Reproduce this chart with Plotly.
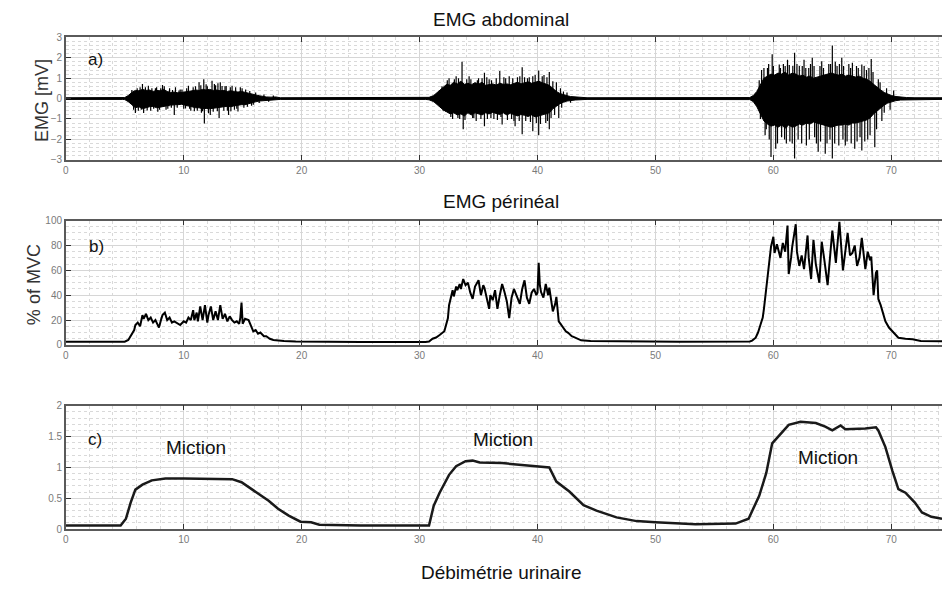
import plotly.graph_objects as go

# ---------------- a) abdominal EMG (mV) ----------------
# body of the raw signal: time (s), upper and lower envelope
emg_t = [0.0, 4.8, 5.0, 5.3, 5.6, 5.9, 6.2, 6.5, 6.8, 7.1, 7.4, 7.7, 8.0, 8.3, 8.6, 8.9, 9.2,
         9.5, 9.8, 10.1, 10.4, 10.7, 11.0, 11.3, 11.6, 11.9, 12.2, 12.5, 12.8, 13.1, 13.4,
         13.7, 14.0, 14.3, 14.6, 14.9, 15.2, 15.5, 15.8, 16.1, 16.4, 16.7, 17.0, 17.4, 17.8,
         18.2, 30.5,
         30.8, 31.2, 31.6, 32.0, 32.3, 32.6, 32.9, 33.2, 33.5, 33.8, 34.1, 34.4, 34.7, 35.0,
         35.3, 35.6, 35.9, 36.2, 36.5, 36.8, 37.1, 37.4, 37.7, 38.0, 38.3, 38.6, 38.9, 39.2,
         39.5, 39.8, 40.1, 40.4, 40.7, 41.0, 41.3, 41.6, 41.9, 42.2, 42.5, 42.8, 43.2, 43.6,
         44.2,
         58.0, 58.3, 58.6, 58.9, 59.2, 59.5, 59.8, 60.1, 60.4, 60.7, 61.0, 61.3, 61.6, 61.9,
         62.2, 62.5, 62.8, 63.1, 63.4, 63.7, 64.0, 64.3, 64.6, 64.9, 65.2, 65.5, 65.8, 66.1,
         66.4, 66.7, 67.0, 67.3, 67.6, 67.9, 68.2, 68.5, 68.8, 69.1, 69.4, 69.7, 70.0, 70.4,
         70.8, 71.3, 72.0, 74.3]
emg_up = [0.04, 0.04, 0.05, 0.15, 0.30, 0.40, 0.38, 0.45, 0.40, 0.42, 0.35, 0.40, 0.38, 0.45,
          0.35, 0.30, 0.32, 0.28, 0.30, 0.30, 0.35, 0.38, 0.42, 0.40, 0.45, 0.42, 0.45, 0.40,
          0.42, 0.38, 0.40, 0.35, 0.38, 0.35, 0.32, 0.35, 0.30, 0.25, 0.22, 0.18, 0.14, 0.10,
          0.08, 0.07, 0.08, 0.04, 0.04,
          0.06, 0.15, 0.35, 0.55, 0.70, 0.65, 0.80, 0.72, 0.85, 0.70, 0.75, 0.68, 0.78, 0.70,
          0.80, 0.65, 0.70, 0.72, 0.66, 0.75, 0.70, 0.72, 0.68, 0.75, 0.80, 0.72, 0.78, 0.82,
          0.75, 0.80, 0.85, 0.78, 0.72, 0.65, 0.50, 0.35, 0.25, 0.18, 0.14, 0.10, 0.08, 0.06,
          0.04,
          0.05, 0.15, 0.35, 0.70, 1.00, 1.10, 1.20, 1.15, 1.25, 1.20, 1.30, 1.15, 1.25, 1.20,
          1.10, 1.15, 1.05, 1.10, 1.00, 1.05, 1.10, 1.15, 1.20, 1.25, 1.20, 1.15, 1.20, 1.10,
          1.15, 1.10, 1.05, 1.10, 1.00, 0.95, 0.85, 0.70, 0.55, 0.42, 0.30, 0.22, 0.15, 0.10,
          0.07, 0.05, 0.04, 0.04]
emg_lo = [-0.04, -0.04, -0.05, -0.15, -0.30, -0.45, -0.40, -0.50, -0.45, -0.40, -0.38, -0.45,
          -0.42, -0.40, -0.35, -0.32, -0.30, -0.30, -0.28, -0.32, -0.35, -0.40, -0.45, -0.45,
          -0.50, -0.48, -0.50, -0.45, -0.45, -0.42, -0.40, -0.38, -0.40, -0.35, -0.32, -0.30,
          -0.30, -0.25, -0.20, -0.16, -0.12, -0.10, -0.07, -0.06, -0.05, -0.04, -0.04,
          -0.06, -0.15, -0.35, -0.55, -0.65, -0.75, -0.70, -0.80, -0.75, -0.85, -0.70, -0.80,
          -0.70, -0.75, -0.80, -0.70, -0.75, -0.68, -0.72, -0.78, -0.70, -0.80, -0.72, -0.80,
          -0.85, -0.78, -0.82, -0.88, -0.80, -0.90, -0.85, -0.80, -0.75, -0.70, -0.50, -0.38,
          -0.25, -0.18, -0.12, -0.10, -0.07, -0.05, -0.04,
          -0.05, -0.15, -0.40, -0.75, -1.10, -1.25, -1.35, -1.30, -1.40, -1.30, -1.45, -1.30,
          -1.40, -1.35, -1.25, -1.30, -1.20, -1.25, -1.15, -1.20, -1.25, -1.30, -1.35, -1.40,
          -1.35, -1.30, -1.30, -1.25, -1.30, -1.20, -1.20, -1.15, -1.10, -1.05, -0.95, -0.75,
          -0.60, -0.45, -0.32, -0.22, -0.15, -0.10, -0.07, -0.05, -0.04, -0.04]

# individual EMG spikes, one list per contraction: time (s) and peak value (mV)
spikes1_t = [5.6, 5.75, 5.9, 6.05, 6.15, 6.3, 6.4, 6.5, 6.6, 6.75, 6.9, 7.0, 7.2, 7.3, 7.45,
             7.6, 7.7, 7.8, 7.95, 8.05, 8.2, 8.35, 8.5, 8.65, 8.8, 8.95, 9.05, 9.2, 9.3, 9.45,
             9.6, 9.7, 9.85, 10.0, 10.15, 10.25, 10.4, 10.5, 10.6, 10.8, 10.9, 11.0, 11.15,
             11.3, 11.45, 11.5, 11.6, 11.7, 11.75, 11.9, 12.0, 12.1, 12.25, 12.4, 12.5, 12.6,
             12.7, 12.85, 12.9, 13.0, 13.1, 13.25, 13.4, 13.5, 13.6, 13.7, 13.8, 13.95, 14.0,
             14.1, 14.3, 14.4, 14.5, 14.6, 14.8, 14.95, 15.1, 15.25, 15.4, 15.6, 15.75, 15.9,
             16.1, 16.4, 16.8, 17.2, 17.6]
spikes1_v = [0.42, -0.55, -0.71, 0.50, -0.60, 0.55, -0.55, 0.71, -0.71, 0.55, -0.58, 0.63,
             -0.60, 0.50, -0.50, 0.50, 0.55, -0.65, -0.55, 0.50, 0.67, 0.60, -0.55, -0.50,
             0.50, -0.45, 0.42, -0.80, 0.55, -0.45, 0.40, 0.45, 0.45, -0.50, -0.48, 0.50,
             0.63, -0.50, -0.60, 0.55, -0.62, 0.60, -0.60, 0.80, 0.65, -0.70, -0.62, 0.95,
             -1.22, 0.70, 0.60, -0.72, -0.80, 0.87, -0.65, 0.72, 0.65, -0.62, 0.75, -0.95,
             0.80, 0.62, -0.60, 0.60, 0.62, -0.60, -0.80, 0.55, -0.62, 0.63, -0.55, 0.55,
             -0.50, -0.63, 0.55, 0.50, -0.45, 0.45, -0.40, 0.37, -0.35, -0.30, 0.30, -0.22,
             0.20, -0.15, 0.15]
spikes2_t = [31.9, 32.0, 32.2, 32.35, 32.5, 32.65, 32.8, 32.95, 33.1, 33.25, 33.3, 33.4, 33.6,
             33.7, 33.85, 34.0, 34.2, 34.35, 34.5, 34.6, 34.8, 34.9, 35.0, 35.2, 35.3, 35.5,
             35.5, 35.7, 35.75, 35.9, 36.05, 36.1, 36.3, 36.5, 36.6, 36.8, 36.9, 37.0, 37.15,
             37.3, 37.45, 37.6, 37.8, 37.9, 38.0, 38.1, 38.3, 38.45, 38.5, 38.7, 38.7, 38.9,
             39.0, 39.15, 39.3, 39.4, 39.6, 39.6, 39.8, 39.9, 40.1, 40.1, 40.25, 40.4, 40.55,
             40.7, 40.8, 40.85, 41.0, 41.0, 41.15, 41.3, 41.45, 41.6, 41.8, 41.95, 42.05,
             42.2, 42.5, 42.8]
spikes2_v = [0.60, -0.60, -0.63, 0.90, 1.00, -0.90, -1.00, 0.95, 1.10, -0.95, 1.00, -1.00,
             1.80, -1.50, -1.05, 0.95, 1.10, 0.95, -0.95, -0.95, -1.10, 0.90, 1.00, -1.00,
             1.00, 1.27, -1.35, 1.05, -1.00, 0.95, -0.95, 0.90, -1.00, 1.00, -1.05, 1.35,
             -0.90, -1.27, 1.05, 1.00, -1.05, 1.10, -1.00, 1.00, -1.10, -1.35, 1.05, -1.10,
             1.10, 1.54, -1.75, 1.05, -1.10, 1.00, 1.05, -1.15, 1.10, -1.60, 1.15, -1.20,
             1.38, -1.80, -1.25, 1.10, 1.15, -1.20, 1.05, -1.10, 1.30, -1.50, -0.95, 0.85,
             -0.80, 0.80, -0.95, 0.50, -0.45, 0.35, 0.30, -0.20]
spikes3_t = [58.8, 58.9, 59.0, 59.2, 59.3, 59.4, 59.5, 59.6, 59.65, 59.8, 59.9, 60.0, 60.2,
             60.35, 60.5, 60.6, 60.7, 60.85, 60.95, 61.0, 61.1, 61.2, 61.35, 61.4, 61.6,
             61.65, 61.8, 61.8, 62.0, 62.1, 62.2, 62.4, 62.45, 62.6, 62.75, 62.8, 63.0, 63.05,
             63.15, 63.3, 63.45, 63.5, 63.65, 63.8, 63.95, 64.0, 64.1, 64.25, 64.4, 64.55,
             64.7, 64.8, 64.85, 65.0, 65.0, 65.2, 65.25, 65.4, 65.55, 65.6, 65.8, 65.9, 65.95,
             66.1, 66.25, 66.4, 66.55, 66.6, 66.7, 66.9, 67.05, 67.1, 67.2, 67.35, 67.5, 67.5,
             67.7, 67.75, 67.9, 68.0, 68.1, 68.2, 68.3, 68.45, 68.6, 68.75, 68.9, 69.05, 69.2,
             69.4, 69.6, 69.9, 70.2]
spikes3_v = [0.90, -1.00, 1.40, 1.50, -1.80, -1.50, 1.50, 1.70, -2.00, -2.86, 2.17, 1.60,
             -2.46, -2.20, 1.67, 1.50, -1.90, 1.70, -2.00, 1.60, -2.20, 1.90, 1.65, -2.10,
             -2.20, 1.60, 2.25, -2.94, 1.70, -2.00, 1.60, -2.20, 1.60, 1.90, 1.50, -2.30,
             1.50, -2.00, 1.70, 2.00, 1.60, -1.90, -2.20, -2.60, 1.60, -2.10, 1.83, 1.50,
             -2.70, -2.20, 1.70, -2.00, 1.70, 2.60, -2.94, -2.20, 1.80, 1.60, -2.30, 1.70,
             2.00, -2.00, 1.60, -2.30, -2.10, 1.70, 1.50, -2.20, 1.75, -2.46, 1.60, -2.10,
             1.50, -1.90, 1.67, -2.54, 1.60, -2.10, 1.40, -2.00, 1.50, -1.80, 1.94, 1.30,
             -2.38, -1.50, 0.95, 0.80, -1.10, -0.70, 0.50, -0.55, 0.40]

# ---------------- b) perineal EMG (% of MVC) ----------------
mvc_t = [0, 2, 4, 5.0, 5.3, 5.5, 5.8, 5.9, 6.1, 6.3, 6.5, 6.6, 6.8, 7.0, 7.2, 7.4, 7.6, 7.8,
         7.9, 8.1, 8.2, 8.4, 8.6, 8.8, 9.0, 9.2, 9.5, 9.7, 10.0, 10.2, 10.4, 10.6, 10.8, 10.9,
         11.1, 11.2, 11.4, 11.6, 11.8, 12.0, 12.1, 12.3, 12.5, 12.7, 12.9, 13.1, 13.3, 13.5,
         13.7, 13.9, 14.1, 14.3, 14.5, 14.7, 14.8, 14.9, 15.0, 15.2, 15.5, 15.7, 15.9, 16.1,
         16.3, 16.5, 16.8, 17.0, 17.3, 17.6, 18.0, 18.5, 19.5, 21, 25, 30.5,
         30.8, 31.1, 31.4, 31.7, 32.1, 32.4, 32.5, 32.7, 32.8, 32.9, 33.1, 33.2, 33.4, 33.5,
         33.7, 33.9, 34.1, 34.3, 34.5, 34.7, 35.0, 35.2, 35.4, 35.5, 35.7, 35.9, 36.0, 36.2,
         36.4, 36.6, 36.8, 37.0, 37.2, 37.4, 37.6, 37.8, 38.0, 38.2, 38.5, 38.7, 38.9, 39.1,
         39.3, 39.5, 39.7, 39.9, 40.0, 40.1, 40.2, 40.3, 40.5, 40.7, 40.9, 41.0, 41.2, 41.3,
         41.5, 41.6, 41.8, 42.0, 42.2, 42.4, 42.6, 42.9, 43.1, 43.4, 43.7, 44.5, 47, 52, 58.0,
         58.2, 58.5, 58.7, 58.9, 59.1, 59.2, 59.3, 59.4, 59.6, 59.8, 60.0, 60.1, 60.3, 60.5,
         60.6, 60.8, 61.0, 61.2, 61.3, 61.5, 61.6, 61.9, 62.0, 62.2, 62.4, 62.6, 62.9, 63.0,
         63.2, 63.4, 63.6, 63.9, 64.1, 64.3, 64.6, 64.8, 65.0, 65.3, 65.6, 65.9, 66.1, 66.3,
         66.5, 66.7, 66.9, 67.1, 67.3, 67.5, 67.8, 68.0, 68.2, 68.3, 68.5, 68.7, 68.8, 68.9,
         69.1, 69.2, 69.5, 69.8, 70.1, 70.4, 70.6, 71.2, 71.8, 72.5, 74.3]
mvc_v = [2.5, 2.4, 2.3, 2.6, 4, 7, 12, 16, 18, 15, 24, 21, 25, 20, 22, 18, 20, 16, 14, 21, 24,
         26, 20, 22, 18, 19, 17, 16, 19, 18, 22, 20, 28, 20, 26, 19, 31, 20, 32, 18, 24, 31, 20,
         27, 20, 32, 21, 25, 19, 23, 20, 18, 19, 17, 22, 34, 17, 21, 20, 15, 11, 12, 9, 10, 7,
         7, 5, 4, 3.5, 3.2, 2.8, 2.6, 2.4, 2.4,
         2.8, 5, 6, 8, 11, 21.5, 32, 40, 44, 39, 47, 44, 49, 45, 53, 48, 50, 42, 37, 47, 52, 40,
         48, 46, 38, 29, 40, 36, 44, 29, 40, 49, 42.5, 35, 21.5, 38, 45, 40, 33, 45, 52, 38, 33,
         42, 45, 40, 42, 66, 48, 42.5, 38, 49, 40, 46, 35, 27, 33, 38.6, 19, 16, 13.6, 11, 9.7,
         7, 6.3, 5, 3.7, 3.2, 2.8, 2.6, 2.8,
         3.5, 5.8, 10, 16, 22, 29, 38, 45, 61, 79, 87, 74, 81, 72, 70, 82, 75, 96, 57, 70, 79,
         97, 75, 63.5, 72, 61, 88, 70, 53, 84.5, 65, 50, 83, 70, 48, 70, 92, 66, 99, 60, 75, 90,
         72, 74, 80, 63.5, 70, 86, 61, 75, 68, 71, 40, 58, 60, 37, 32, 29, 19, 14, 11, 8, 5.8,
         5, 4.5, 3.2, 3.0]

# ---------------- c) urinary flow ----------------
flow_t = [0, 2, 3.5, 4.65, 5.1, 5.5, 5.9, 6.5, 7.3, 8.45, 10, 12.1, 14.1, 14.9, 15.6, 16.5,
          17.2, 18.0, 18.9, 19.9, 20.8, 21.5, 25, 30.8, 31.2, 31.7, 32.5, 33.1, 33.9, 34.5,
          35.1, 37.0, 38.5, 40.2, 41.0, 41.6, 42.7, 43.9, 45.0, 46.7, 48.4, 50.0, 53.4, 56.8,
          57.9, 58.8, 59.4, 59.9, 60.5, 61.3, 62.3, 63.6, 64.4, 65.0, 65.7, 66.1, 67.8, 68.7,
          68.9, 69.5, 70.1, 70.6, 71.2, 72.0, 72.6, 73.4, 74.3]
flow_v = [0.06, 0.06, 0.05, 0.06, 0.17, 0.43, 0.64, 0.72, 0.79, 0.82, 0.82, 0.82, 0.81, 0.76,
          0.67, 0.56, 0.46, 0.33, 0.22, 0.12, 0.11, 0.07, 0.06, 0.06, 0.38, 0.59, 0.88, 1.02,
          1.10, 1.11, 1.08, 1.07, 1.04, 1.01, 1.00, 0.77, 0.61, 0.39, 0.30, 0.19, 0.13, 0.11,
          0.08, 0.09, 0.17, 0.54, 0.91, 1.39, 1.52, 1.69, 1.74, 1.72, 1.66, 1.60, 1.68, 1.62,
          1.63, 1.65, 1.60, 1.33, 0.94, 0.65, 0.59, 0.43, 0.27, 0.20, 0.17]

x_ticks = [0, 10, 20, 30, 40, 50, 60, 70]
x_range = [0, 74.3]

W, H = 942, 590
FONT = "Liberation Sans, Arial, Helvetica, sans-serif"


def px_dom(top, bottom):
    return [1 - bottom / H, 1 - top / H]


fig = go.Figure()

# a) EMG body as a filled envelope, plus individual spikes
fig.add_trace(go.Scatter(
    x=emg_t + emg_t[::-1], y=emg_up + emg_lo[::-1],
    fill="toself", fillcolor="black", mode="lines",
    line=dict(color="black", width=1), xaxis="x", yaxis="y", hoverinfo="skip"))
sx, sy = [], []
for ts, vs in ((spikes1_t, spikes1_v), (spikes2_t, spikes2_v), (spikes3_t, spikes3_v)):
    for t, v in zip(ts, vs):
        sx += [t, t, None]
        sy += [0, v, None]
fig.add_trace(go.Scatter(x=sx, y=sy, mode="lines", line=dict(color="black", width=1.2),
                         xaxis="x", yaxis="y", hoverinfo="skip"))

# b) perineal EMG
fig.add_trace(go.Scatter(x=mvc_t, y=mvc_v, mode="lines", line=dict(color="black", width=2),
                         xaxis="x2", yaxis="y2"))
# c) flow
fig.add_trace(go.Scatter(x=flow_t, y=flow_v, mode="lines", line=dict(color="#1a1a1a", width=2.5),
                         xaxis="x3", yaxis="y3"))

grid = dict(showgrid=True, gridcolor="#d6d6d6", gridwidth=1, zeroline=False)
minor_grid = dict(showgrid=True, gridcolor="#d9d9d9", griddash="dot", gridwidth=1, ticks="")


def xaxis(anchor):
    return dict(domain=[63 / W, 1], anchor=anchor, range=x_range, tickvals=x_ticks,
                showline=True, linecolor="#5a5a5a", linewidth=1.5, mirror="ticks",
                ticks="inside", ticklen=5, tickwidth=1, tickcolor="#333",
                tickfont=dict(size=10, color="#7a7a7a", family=FONT),
                minor=dict(dtick=2, **minor_grid), **grid)


def yaxis(anchor, dom, rng, dtick, mdtick):
    return dict(domain=dom, anchor=anchor, range=rng, dtick=dtick,
                showline=True, linecolor="#5a5a5a", linewidth=1.5, mirror=False,
                ticks="inside", ticklen=5, tickwidth=1, tickcolor="#333",
                tickfont=dict(size=10, color="#7a7a7a", family=FONT),
                minor=dict(dtick=mdtick, **minor_grid), **grid)


fig.update_layout(
    width=W, height=H, margin=dict(l=0, r=0, t=0, b=0),
    paper_bgcolor="white", plot_bgcolor="white", showlegend=False,
    font=dict(family=FONT, color="#111"),
    xaxis=xaxis("y"),
    yaxis=yaxis("x", px_dom(32, 157), [-3, 3], 1, 0.2),
    xaxis2=xaxis("y2"),
    yaxis2=yaxis("x2", px_dom(219, 346), [0, 100], 20, 5),
    xaxis3=xaxis("y3"),
    yaxis3=yaxis("x3", px_dom(408, 534), [0, 2], 0.5, 0.1),
)

ann = []


def paper_text(text, x_px, y_px, size=19, angle=0, color="#111"):
    ann.append(dict(text=text, xref="paper", yref="paper", x=x_px / W, y=1 - y_px / H,
                    xanchor="center", yanchor="middle", showarrow=False, textangle=angle,
                    font=dict(size=size, color=color, family=FONT)))


def data_text(text, xr, yr, x, y, size=19):
    ann.append(dict(text=text, xref=xr, yref=yr, x=x, y=y, xanchor="center",
                    yanchor="middle", showarrow=False,
                    font=dict(size=size, color="#111", family=FONT)))


paper_text("EMG abdominal", 500, 14)
paper_text("EMG périnéal", 500, 200)
paper_text("Débimétrie urinaire", 500, 578)
paper_text("EMG [mV]", 39, 96, size=18, angle=-90, color="#333")
paper_text("% of MVC", 31, 284, size=18, angle=-90, color="#333")

data_text("a)", "x", "y", 2.5, 1.9, size=17)
data_text("b)", "x2", "y2", 2.6, 79, size=17)
data_text("c)", "x3", "y3", 2.5, 1.46, size=17)
data_text("Miction", "x3", "y3", 11.0, 1.33)
data_text("Miction", "x3", "y3", 37.1, 1.46)
data_text("Miction", "x3", "y3", 64.6, 1.16)

fig.update_layout(annotations=ann)
fig.write_html("out.html")
